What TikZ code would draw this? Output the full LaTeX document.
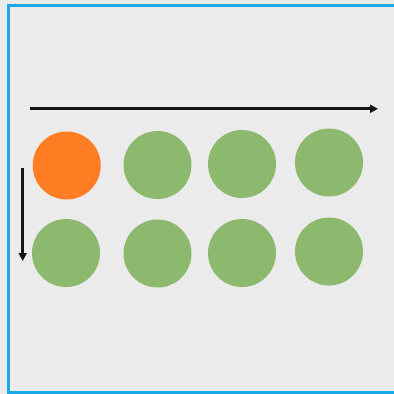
\documentclass[tikz,border=0pt]{standalone}
\usetikzlibrary{arrows.meta}
\definecolor{bggray}{RGB}{235,235,235}
\definecolor{frameblue}{RGB}{27,168,232}
\definecolor{dotorange}{RGB}{255,126,36}
\definecolor{dotgreen}{RGB}{141,185,110}
\tikzset{
  dot/.style={circle, minimum size=68pt, inner sep=0pt, draw=none},
  arrowline/.style={line width=3pt, draw=black!92, -{Triangle[length=8pt,width=8pt]}}
}
\begin{document}
\begin{tikzpicture}[x=1pt,y=-1pt]
\useasboundingbox (0,0) rectangle (394,394);
\clip (0,0) rectangle (394,394);
\fill[bggray] (0,0) rectangle (394,394);
\draw[frameblue, line width=3pt] (8,5) rectangle (410,392.5);
\node[dot, fill=dotorange] (o1) at (66.7,165.5) {};
\node[dot, fill=dotgreen] (g12) at (157.5,165) {};
\node[dot, fill=dotgreen] (g13) at (242,164) {};
\node[dot, fill=dotgreen] (g14) at (329,162.5) {};
\node[dot, fill=dotgreen] (g21) at (66,253) {};
\node[dot, fill=dotgreen] (g22) at (157.5,253.5) {};
\node[dot, fill=dotgreen] (g23) at (242,253) {};
\node[dot, fill=dotgreen] (g24) at (329,251.5) {};
\coordinate (hs) at (30,108.8);
\coordinate (he) at (378,108.8);
\coordinate (vs) at (22.7,168);
\coordinate (ve) at (22.7,261);
\draw[arrowline] (hs) -- (he);
\draw[arrowline] (vs) -- (ve);
\end{tikzpicture}
\end{document}
